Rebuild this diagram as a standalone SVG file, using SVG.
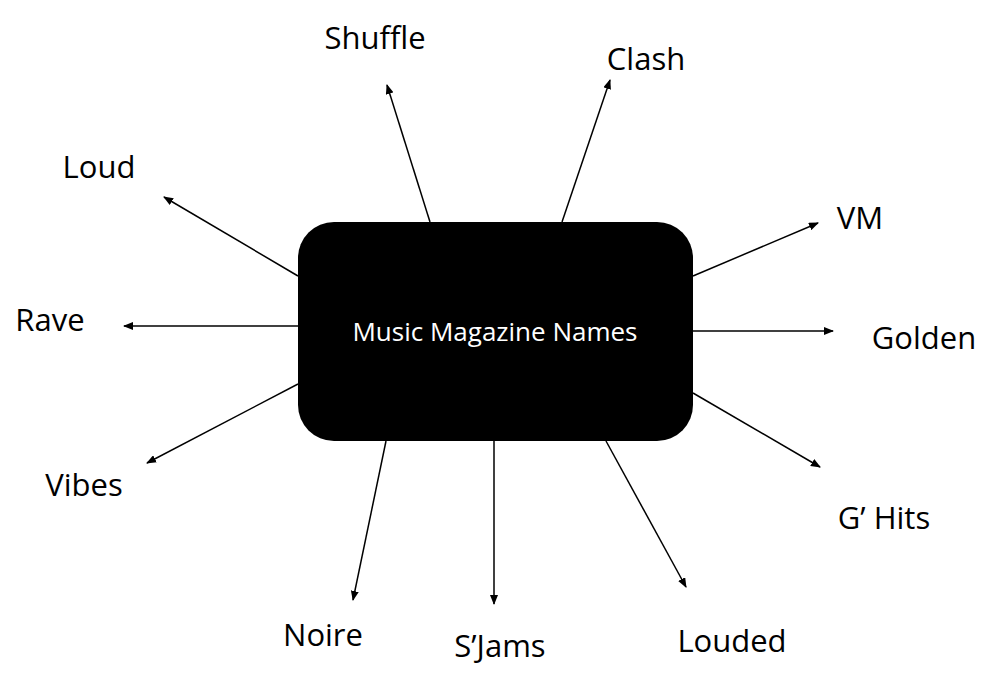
<svg xmlns="http://www.w3.org/2000/svg" width="994" height="680" viewBox="0 0 994 680">
<defs>
<marker id="ah" markerWidth="10" markerHeight="8" refX="9" refY="4" orient="auto" markerUnits="userSpaceOnUse">
<path d="M0,0 L10,4 L0,8 Z" fill="#000"/>
</marker>
<style>
.c{stroke:#000;stroke-width:1.5;fill:none;marker-end:url(#ah)}
.l{font-family:"Open Sans","Liberation Sans",sans-serif;font-size:31px;fill:#000;text-anchor:middle;dominant-baseline:central}
</style>
</defs>
<rect width="994" height="680" fill="#fff"/>
<g id="center">
<rect x="298" y="222" width="395" height="219" rx="36" fill="#000"/>
<text x="495" y="331" font-family="'Open Sans','Liberation Sans',sans-serif" font-size="26" fill="#fff" text-anchor="middle" dominant-baseline="central">Music Magazine Names</text>
</g>
<g id="connectors">
<line class="c" x1="430" y1="222" x2="387" y2="85"/>
<line class="c" x1="562" y1="222" x2="610" y2="80"/>
<line class="c" x1="693" y1="276" x2="818" y2="223"/>
<line class="c" x1="693" y1="331" x2="833" y2="331"/>
<line class="c" x1="693" y1="393" x2="820" y2="467"/>
<line class="c" x1="606" y1="441" x2="686" y2="587"/>
<line class="c" x1="494" y1="441" x2="494" y2="604"/>
<line class="c" x1="386" y1="441" x2="353" y2="600"/>
<line class="c" x1="298" y1="384" x2="147" y2="463"/>
<line class="c" x1="298" y1="326" x2="124" y2="326"/>
<line class="c" x1="298" y1="276" x2="164" y2="197"/>
</g>
<g id="shuffle"><text class="l" x="375" y="37">Shuffle</text></g>
<g id="clash"><text class="l" x="646" y="58">Clash</text></g>
<g id="vm"><text class="l" x="860" y="217">VM</text></g>
<g id="golden"><text class="l" x="924" y="337">Golden</text></g>
<g id="ghits"><text class="l" x="884" y="517">G’ Hits</text></g>
<g id="louded"><text class="l" x="732" y="640">Louded</text></g>
<g id="sjams"><text class="l" x="500" y="645">S’Jams</text></g>
<g id="noire"><text class="l" x="323" y="634">Noire</text></g>
<g id="vibes"><text class="l" x="84" y="484">Vibes</text></g>
<g id="rave"><text class="l" x="50" y="319">Rave</text></g>
<g id="loud"><text class="l" x="99" y="166">Loud</text></g>
</svg>
